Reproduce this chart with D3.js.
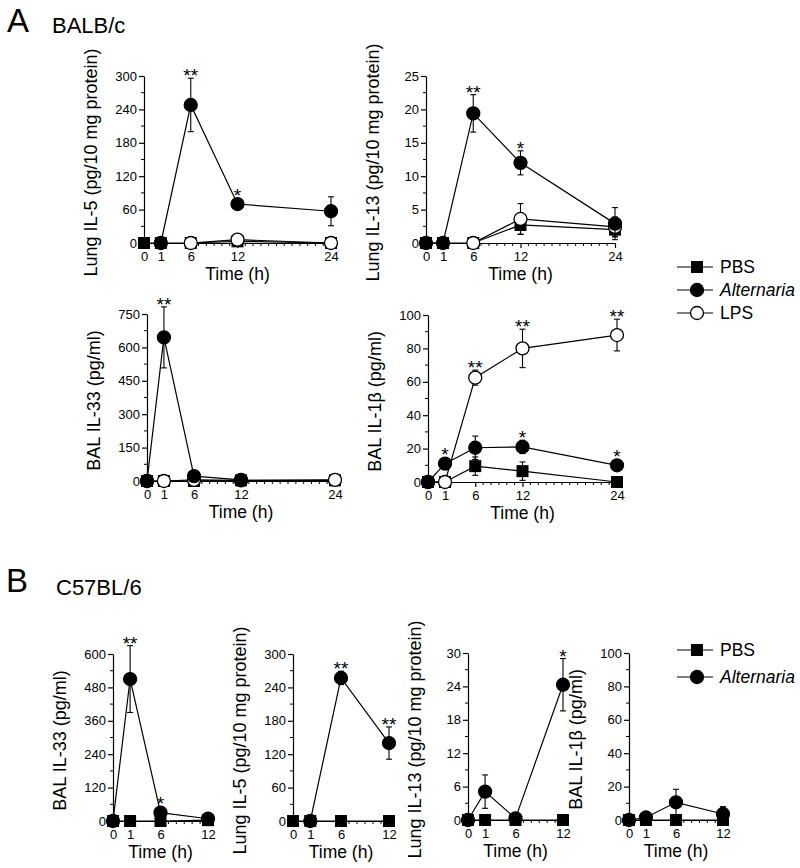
<!DOCTYPE html>
<html><head><meta charset="utf-8">
<script src="https://cdn.jsdelivr.net/npm/d3@7"></script>
<style>
html,body{margin:0;padding:0;background:#fff;}
svg{display:block;font-family:"Liberation Sans",Arial,Helvetica,sans-serif;}
</style></head>
<body><svg id="chart" width="800" height="868"></svg>
<script>
// ---------- DATA ----------
const hoursA = [0, 1, 6, 12, 24];
const hoursB = [0, 1, 6, 12];
const tickLabelsA = ["0", "1", "6", "12", "24"];
const tickLabelsB = ["0", "1", "6", "12"];
const seriesNames = ["PBS", "Alternaria", "LPS"];

// Panel A1: Lung IL-5
const a1_pbs = [0, 0, 0, 3, 0];        const a1_pbsErr = [0, 0, 0, 0, 0];
const a1_lps = [null, null, 0, 6, 0];  const a1_lpsErr = [0, 0, 0, 7, 0];
const a1_alt = [null, 0, 248, 70, 57]; const a1_altErr = [0, 0, 48, 5, 26];
const a1_altStars = ["", "", "**", "*", ""];
const a1_yTicks = [0, 60, 120, 180, 240, 300];

// Panel A2: Lung IL-13
const a2_pbs = [0, 0, 0, 2.7, 2.0];     const a2_pbsErr = [0, 0, 0, 1.4, 1.0];
const a2_lps = [null, null, 0, 3.6, 2.4]; const a2_lpsErr = [0, 0, 0, 2.3, 1.5];
const a2_alt = [0, 0, 19.4, 12.0, 2.9]; const a2_altErr = [0, 0, 2.8, 1.8, 2.4];
const a2_altStars = ["", "", "**", "*", ""];
const a2_yTicks = [0, 5, 10, 15, 20, 25];

// Panel A3: BAL IL-33
const a3_pbs = [0, 0, 0, 3, 3];          const a3_pbsErr = [0, 0, 0, 0, 0];
const a3_lps = [0, 0, 5, 3, 5];          const a3_lpsErr = [0, 0, 8, 0, 0];
const a3_alt = [0, 645, 22, 5, null];    const a3_altErr = [0, 137, 12, 3, 0];
const a3_altStars = ["", "**", "", "", ""];
const a3_yTicks = [0, 150, 300, 450, 600, 750];

// Panel A4: BAL IL-1β
const a4_pbs = [0, 0, 9.5, 6.5, 0];      const a4_pbsErr = [0, 0, 5.5, 5.5, 0];
const a4_lps = [0, 0, 62.5, 80, 88];     const a4_lpsErr = [0, 0, 4.5, 11.5, 9.5];
const a4_alt = [0, 11, 20.5, 21, 10];    const a4_altErr = [0, 2.5, 7, 4, 1.5];
const a4_lpsStars = ["", "", "**", "**", "**"];
const a4_altStars = ["", "*", "", "*", "*"];
const a4_yTicks = [0, 20, 40, 60, 80, 100];

// Panel B1: BAL IL-33
const b1_pbs = [0, 0, 0, 3];      const b1_pbsErr = [0, 0, 0, 0];
const b1_alt = [0, 510, 30, 8];   const b1_altErr = [0, 120, 20, 3];
const b1_altStars = ["", "**", "*", ""];
const b1_yTicks = [0, 120, 240, 360, 480, 600];

// Panel B2: Lung IL-5
const b2_pbs = [0, 0, 0, 0];         const b2_pbsErr = [0, 0, 0, 0];
const b2_alt = [null, 0, 257, 140];  const b2_altErr = [0, 0, 12, 29];
const b2_altStars = ["", "", "**", "**"];
const b2_yTicks = [0, 60, 120, 180, 240, 300];

// Panel B3: Lung IL-13
const b3_pbs = [0, 0, 0, 0];          const b3_pbsErr = [0, 0, 0, 0];
const b3_alt = [0, 5.1, 0.3, 24.3];   const b3_altErr = [0, 3, 0, 4.7];
const b3_altStars = ["", "", "", "*"];
const b3_yTicks = [0, 6, 12, 18, 24, 30];

// Panel B4: BAL IL-1β
const b4_pbs = [0, 0, 0, 0];          const b4_pbsErr = [0, 0, 0, 0];
const b4_alt = [0, 1.5, 10.6, 3.6];   const b4_altErr = [0, 0.8, 7.8, 4.4];
const b4_altStars = ["", "", "", ""];
const b4_yTicks = [0, 20, 40, 60, 80, 100];

// ---------- LAYOUT ----------
const fracA = [0, 0.09, 0.25, 0.5, 1];
const fracB = [0, 0.18, 0.5, 1];
const svg = d3.select("#chart");
const R = 6.5, SQ = 12;

function S(name, vals, errs, stars) { return {name, vals, errs, stars: stars || []}; }

const panels = [
  {x0:144, x1:331, yTop:76, yBot:243, hours:hoursA, fr:fracA, labels:tickLabelsA, yTicks:a1_yTicks,
   ylabel:"Lung IL-5 (pg/10 mg protein)",
   series:[S("PBS",a1_pbs,a1_pbsErr), S("LPS",a1_lps,a1_lpsErr), S("Alternaria",a1_alt,a1_altErr,a1_altStars)]},
  {x0:426, x1:615, yTop:76, yBot:243, hours:hoursA, fr:fracA, labels:tickLabelsA, yTicks:a2_yTicks,
   ylabel:"Lung IL-13 (pg/10 mg protein)",
   series:[S("PBS",a2_pbs,a2_pbsErr), S("LPS",a2_lps,a2_lpsErr), S("Alternaria",a2_alt,a2_altErr,a2_altStars)]},
  {x0:147, x1:335, yTop:314, yBot:481, hours:hoursA, fr:fracA, labels:tickLabelsA, yTicks:a3_yTicks,
   ylabel:"BAL IL-33 (pg/ml)",
   series:[S("PBS",a3_pbs,a3_pbsErr), S("LPS",a3_lps,a3_lpsErr), S("Alternaria",a3_alt,a3_altErr,a3_altStars)]},
  {x0:428, x1:617, yTop:315, yBot:482, hours:hoursA, fr:fracA, labels:tickLabelsA, yTicks:a4_yTicks,
   ylabel:"BAL IL-1β (pg/ml)",
   series:[S("PBS",a4_pbs,a4_pbsErr), S("LPS",a4_lps,a4_lpsErr,a4_lpsStars), S("Alternaria",a4_alt,a4_altErr,a4_altStars)]},
  {x0:113, x1:208, yTop:654, yBot:821, hours:hoursB, fr:fracB, labels:tickLabelsB, yTicks:b1_yTicks,
   ylabel:"BAL IL-33 (pg/ml)",
   series:[S("PBS",b1_pbs,b1_pbsErr), S("Alternaria",b1_alt,b1_altErr,b1_altStars)]},
  {x0:293, x1:389, yTop:654, yBot:821, hours:hoursB, fr:fracB, labels:tickLabelsB, yTicks:b2_yTicks,
   ylabel:"Lung IL-5 (pg/10 mg protein)",
   series:[S("PBS",b2_pbs,b2_pbsErr), S("Alternaria",b2_alt,b2_altErr,b2_altStars)]},
  {x0:468, x1:563, yTop:653, yBot:820, hours:hoursB, fr:fracB, labels:tickLabelsB, yTicks:b3_yTicks,
   ylabel:"Lung IL-13 (pg/10 mg protein)",
   series:[S("PBS",b3_pbs,b3_pbsErr), S("Alternaria",b3_alt,b3_altErr,b3_altStars)]},
  {x0:629, x1:723, yTop:653, yBot:820, hours:hoursB, fr:fracB, labels:tickLabelsB, yTicks:b4_yTicks,
   ylabel:"BAL IL-1β (pg/ml)",
   series:[S("PBS",b4_pbs,b4_pbsErr), S("Alternaria",b4_alt,b4_altErr,b4_altStars)]}
];

function marker(g, name, cx, cy) {
  if (name === "PBS") {
    g.append("rect").attr("x", cx - SQ/2).attr("y", cy - SQ/2).attr("width", SQ).attr("height", SQ).attr("fill", "#000");
  } else {
    g.append("circle").attr("cx", cx).attr("cy", cy).attr("r", R)
      .attr("fill", name === "LPS" ? "#fff" : "#000").attr("stroke", "#000").attr("stroke-width", 1.3);
  }
}

panels.forEach(p => {
  const g = svg.append("g");
  const x = d3.scaleLinear().domain(p.hours).range(p.fr.map(f => p.x0 + f * (p.x1 - p.x0)));
  const ymax = p.yTicks[p.yTicks.length - 1];
  const y = d3.scaleLinear().domain([0, ymax]).range([p.yBot, p.yTop]);
  const hmax = p.hours[p.hours.length - 1];

  // y axis
  const ya = g.append("g").attr("transform", `translate(${p.x0},0)`)
    .call(d3.axisLeft(y).tickValues(p.yTicks).tickSize(5).tickSizeOuter(0).tickPadding(2));
  ya.selectAll("text").attr("font-size", 13).attr("fill", "#000").attr("font-family", null);
  ya.selectAll("path,line").attr("stroke", "#000").attr("stroke-width", 1.2);
  const step = p.yTicks[1] - p.yTicks[0];
  g.selectAll(null).data(p.yTicks.slice(0, -1).map(v => v + step/2)).enter().append("line")
    .attr("x1", p.x0 - 3).attr("x2", p.x0).attr("y1", d => y(d)).attr("y2", d => y(d))
    .attr("stroke", "#000").attr("stroke-width", 1);

  // x axis
  const xa = g.append("g").attr("transform", `translate(0,${p.yBot})`)
    .call(d3.axisBottom(x).tickValues(p.hours).tickFormat((d, i) => p.labels[i]).tickSize(5).tickSizeOuter(0).tickPadding(4));
  xa.selectAll("text").attr("font-size", 13).attr("fill", "#000").attr("font-family", null);
  xa.selectAll("path,line").attr("stroke", "#000").attr("stroke-width", 1.2);
  const minor = d3.range(7, hmax).filter(h => h !== 12);
  g.selectAll(null).data(minor).enter().append("line")
    .attr("x1", d => x(d)).attr("x2", d => x(d)).attr("y1", p.yBot).attr("y2", p.yBot + 3)
    .attr("stroke", "#000").attr("stroke-width", 1);

  // labels
  g.append("text").attr("transform", `translate(${p.x0 - 47},${(p.yTop + p.yBot) / 2 + 3}) rotate(-90)`)
    .attr("text-anchor", "middle").attr("font-size", 18).text(p.ylabel);
  g.append("text").attr("x", (p.x0 + p.x1) / 2).attr("y", p.yBot + 37)
    .attr("text-anchor", "middle").attr("font-size", 17.5).text("Time (h)");

  // series
  const line = d3.line().x(d => x(d.h)).y(d => y(d.v));
  p.series.forEach(s => {
    const pts = p.hours.map((h, i) => ({h, v: s.vals[i], e: s.errs[i], st: s.stars[i] || ""})).filter(d => d.v !== null);
    const sg = g.append("g");
    sg.append("path").attr("d", line(pts)).attr("fill", "none").attr("stroke", "#000").attr("stroke-width", 1.2);
    pts.filter(d => d.e > 0).forEach(d => {
      const cx = x(d.h), yt = y(d.v + d.e), yb = y(Math.max(0, d.v - d.e));
      sg.append("line").attr("x1", cx).attr("x2", cx).attr("y1", yt).attr("y2", yb).attr("stroke", "#000").attr("stroke-width", 1.1);
      [yt, yb].forEach(yy => sg.append("line").attr("x1", cx - 3).attr("x2", cx + 3).attr("y1", yy).attr("y2", yy).attr("stroke", "#000").attr("stroke-width", 1.1));
    });
    pts.forEach(d => marker(sg, s.name, x(d.h), y(d.v)));
    pts.filter(d => d.st).forEach(d => {
      const anchor = Math.min(y(d.v + d.e), y(d.v) - R);
      sg.append("text").attr("x", x(d.h)).attr("y", anchor + 4).attr("text-anchor", "middle")
        .attr("font-size", 19).text(d.st);
    });
  });
});

// titles
svg.append("text").attr("x", 7).attr("y", 32).attr("font-size", 33).text("A");
svg.append("text").attr("x", 52).attr("y", 33).attr("font-size", 22).text("BALB/c");
svg.append("text").attr("x", 6).attr("y", 592).attr("font-size", 33).text("B");
svg.append("text").attr("x", 56).attr("y", 595).attr("font-size", 22).text("C57BL/6");

// legends
function legend(names, ys) {
  names.forEach((n, i) => {
    const lg = svg.append("g");
    lg.append("line").attr("x1", 677).attr("x2", 713).attr("y1", ys[i]).attr("y2", ys[i]).attr("stroke", "#000").attr("stroke-width", 1.2);
    marker(lg, n, 697, ys[i]);
    lg.append("text").attr("x", 720).attr("y", ys[i]).attr("dy", "0.35em").attr("font-size", 17.5)
      .attr("font-style", n === "Alternaria" ? "italic" : "normal").text(n);
  });
}
legend(seriesNames, [267, 290, 313]);
legend(seriesNames.slice(0, 2), [650, 677]);
</script></body></html>
